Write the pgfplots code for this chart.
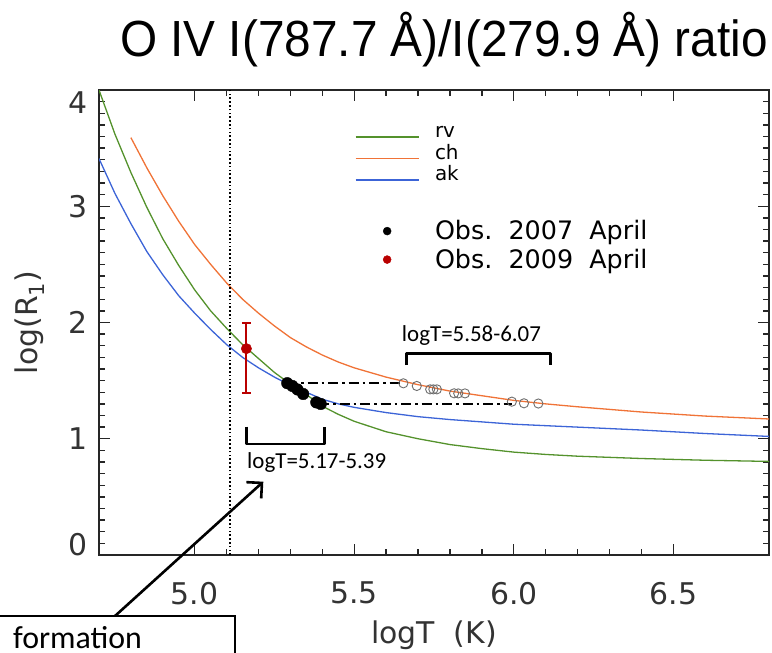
\documentclass[border=0pt]{standalone}
\usepackage{fontspec}
\setmainfont{DejaVu Sans}
\newfontfamily\titlefont{Liberation Sans}
\newfontfamily\calfont{Carlito}
\usepackage{graphicx}
\usepackage{pgfplots}
\usepackage{pgfplotstable}
\pgfplotsset{compat=1.18}
\usetikzlibrary{arrows.meta}
\definecolor{rvgreen}{RGB}{84,146,44}
\definecolor{chorange}{RGB}{240,115,55}
\definecolor{akblue}{RGB}{60,100,215}
\definecolor{obsred}{RGB}{185,0,0}
\definecolor{circgray}{RGB}{110,110,110}

\pgfplotstableread{
x y
4.70 4.00
4.75 3.62
4.80 3.29
4.85 2.99
4.90 2.72
4.95 2.49
5.00 2.28
5.05 2.10
5.10 1.95
5.15 1.81
5.20 1.69
5.25 1.57
5.30 1.47
5.35 1.38
5.40 1.28
5.45 1.21
5.50 1.15
5.60 1.06
5.70 1.00
5.80 0.95
5.90 0.915
6.00 0.885
6.10 0.865
6.20 0.85
6.40 0.83
6.60 0.815
6.80 0.805
}\rvtable

\pgfplotstableread{
x y
4.80 3.59
4.85 3.33
4.90 3.09
4.95 2.87
5.00 2.67
5.05 2.50
5.10 2.34
5.15 2.20
5.20 2.08
5.25 1.97
5.30 1.87
5.35 1.79
5.40 1.72
5.45 1.66
5.50 1.61
5.60 1.53
5.70 1.465
5.80 1.41
5.90 1.37
6.00 1.33
6.10 1.30
6.20 1.275
6.40 1.23
6.60 1.195
6.80 1.17
}\chtable

\pgfplotstableread{
x y
4.70 3.41
4.75 3.11
4.80 2.85
4.85 2.61
4.90 2.41
4.95 2.23
5.00 2.08
5.05 1.94
5.10 1.81
5.15 1.70
5.20 1.61
5.25 1.53
5.30 1.46
5.35 1.40
5.40 1.34
5.45 1.30
5.50 1.27
5.60 1.225
5.70 1.19
5.80 1.165
5.90 1.145
6.00 1.125
6.20 1.10
6.40 1.075
6.60 1.045
6.80 1.02
}\aktable

\pgfplotstableread{
x y
5.290 1.478
5.306 1.454
5.322 1.424
5.340 1.385
5.381 1.313
5.395 1.299
}\obsseven

\pgfplotstableread{
x y
5.654 1.477
5.696 1.454
5.738 1.425
5.748 1.425
5.759 1.425
5.813 1.391
5.826 1.390
5.847 1.390
5.994 1.319
6.032 1.305
6.077 1.303
}\obsring

\pgfplotsset{
  leglineimg/.style={legend image code/.code={\draw[##1] (0bp,1bp) -- (63bp,1bp);}},
  legdotimg/.style={legend image code/.code={\path (0bp,0bp) (63bp,0bp); \draw[##1] plot coordinates {(31.5bp,8.5bp)};}},
}

\begin{document}
\begin{tikzpicture}
\begin{axis}[
  at={(99bp,98bp)}, anchor=south west,
  scale only axis, width=670bp, height=465bp,
  xmin=4.7, xmax=6.8, ymin=0, ymax=4,
  xtick={5,5.5,6,6.5}, xticklabels={5.0,5.5,6.0,6.5},
  ytick={0,1,2,3,4},
  yticklabels={\smash{\raisebox{-0.9bp}{0}},1,2,3,\smash{\raisebox{-23.9bp}{4}}},
  minor x tick num=4, minor y tick num=9,
  tick align=inside, tick pos=both,
  major tick length=11bp, minor tick length=6bp,
  axis line style={line width=1.6bp, black!85},
  every tick/.style={black!85, line width=1.4bp},
  tick label style={font=\fontsize{30}{30}\selectfont, inner sep=0pt, text=black!80},
  xticklabel style={yshift=-26.7bp},
  yticklabel style={xshift=-11bp},
  legend cell align=left,
  legend style={at={(axis description cs:0.3821,0.9355)}, anchor=north west,
    draw=none, fill=none, inner sep=0pt, outer sep=0pt, row sep=0pt,
    column sep=13.7bp, cells={anchor=base west, inner sep=0pt}},
]
\addplot[rvgreen, line width=1.3bp, forget plot] table {\rvtable};
\addplot[chorange, line width=1.3bp, forget plot] table {\chtable};
\addplot[akblue, line width=1.3bp, forget plot] table {\aktable};

\addplot[black, line width=1.8bp, dash pattern=on 1.6bp off 2.2bp, forget plot]
  coordinates {(5.11,0) (5.11,4)};

\addplot[black, line width=2.2bp, dash pattern=on 10bp off 4bp on 2.5bp off 4bp, forget plot]
  coordinates {(5.29,1.479) (5.652,1.479)};
\addplot[black, line width=2.2bp, dash pattern=on 10bp off 4bp on 2.5bp off 4bp, forget plot]
  coordinates {(5.39,1.300) (5.994,1.300)};

\addplot[only marks, mark=o, mark size=4.6bp, circgray, mark options={line width=0.9bp}, forget plot]
  table {\obsring};
\addplot[only marks, mark=*, mark size=5.8bp, black, forget plot] table {\obsseven};

\addplot[only marks, mark=*, mark size=5.2bp, obsred, forget plot,
  error bars/.cd, y dir=both, y explicit,
  error bar style={line width=2bp, obsred},
  error mark options={rotate=90, mark size=4.5bp, line width=2bp, obsred}]
  coordinates {(5.162,1.775) += (0,0.222) -= (0,0.38)};

\draw[line width=2.8bp, black, line join=round]
  (axis cs:5.163,1.104) -- (axis cs:5.163,0.955) -- (axis cs:5.408,0.955) -- (axis cs:5.408,1.104);
\draw[line width=2.8bp, black, line join=round]
  (axis cs:5.665,1.634) -- (axis cs:5.665,1.735) -- (axis cs:6.116,1.735) -- (axis cs:6.116,1.634);
\node[anchor=base west, inner sep=0pt, font=\calfont\fontsize{23}{23}\selectfont]
  at (axis cs:5.164,0.74) {logT=5.17-5.39};
\node[anchor=base west, inner sep=0pt, font=\calfont\fontsize{23}{23}\selectfont]
  at (axis cs:5.649,1.835) {logT=5.58-6.07};

\addlegendimage{rvgreen, line width=1.3bp, leglineimg}
\addlegendentry{\fontsize{20}{20}\selectfont\rule[-7bp]{0pt}{23bp}rv}
\addlegendimage{chorange, line width=1.3bp, leglineimg}
\addlegendentry{\fontsize{20}{20}\selectfont\rule[-7bp]{0pt}{23bp}ch}
\addlegendimage{akblue, line width=1.3bp, leglineimg}
\addlegendentry{\fontsize{20}{20}\selectfont\rule[-7bp]{0pt}{23bp}ak}
\addlegendimage{empty legend}
\addlegendentry{\rule{0pt}{26.7bp}}
\addlegendimage{only marks, mark=*, mark size=4bp, black, legdotimg}
\addlegendentry{\fontsize{25.5}{25.5}\selectfont\rule[-16bp]{0pt}{37bp}Obs.\ \ 2007\ \ April}
\addlegendimage{only marks, mark=*, mark size=4bp, obsred, legdotimg}
\addlegendentry{\fontsize{25.5}{25.5}\selectfont\rule[-16bp]{0pt}{39bp}Obs.\ \ 2009\ \ April}
\end{axis}

% title and axis labels
\node[anchor=base, inner sep=0pt] at (444bp,596bp)
  {\titlefont\fontsize{51}{51}\selectfont\scalebox{0.94}[1]{O IV I(787.7 Å)/I(279.9 Å) ratio}};
\node[anchor=base, inner sep=0pt, text=black!80, font=\fontsize{30}{30}\selectfont]
  at (434bp,9.7bp) {logT\ \ (K)};
\node[anchor=base, inner sep=0pt, rotate=90, text=black!80, font=\fontsize{30}{30}\selectfont]
  at (37.3bp,330.5bp) {log(R\textsubscript{1})};

% annotation box and arrow
\draw[line width=2bp, fill=white] (-5bp,-60bp) rectangle (235bp,37bp);
\node[anchor=base west, inner sep=0pt, font=\calfont\fontsize{32}{32}\selectfont]
  at (13bp,5bp) {formation};
\draw[line width=2.6bp, -{Straight Barb[length=11bp, width=22bp]}]
  (115bp,37bp) -- (263.3bp,171.3bp);

\pgfresetboundingbox
\path[use as bounding box] (0bp,0bp) rectangle (772bp,653bp);
\end{tikzpicture}
\end{document}
